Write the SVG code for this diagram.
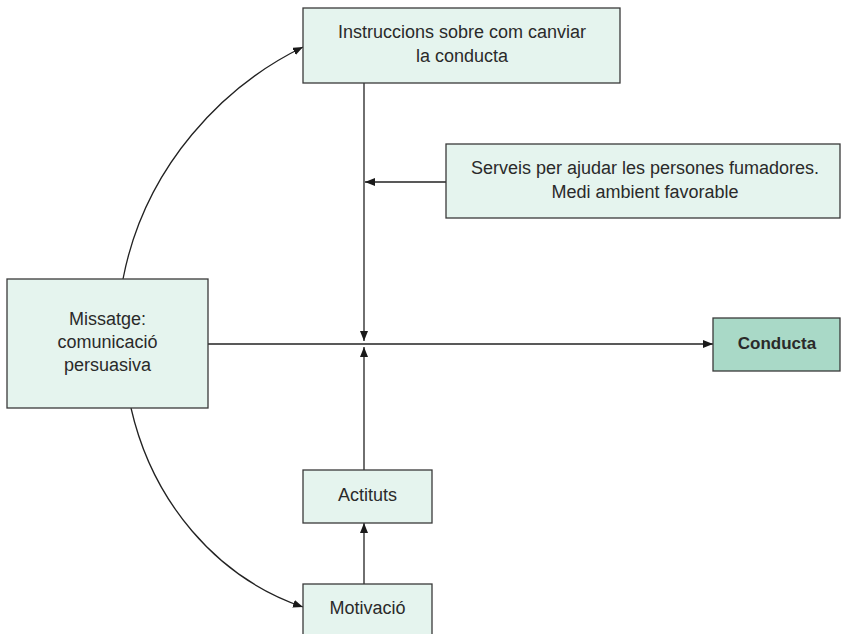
<svg xmlns="http://www.w3.org/2000/svg" width="841" height="634" viewBox="0 0 841 634">
  <style>
    .box { fill: #e5f4ee; stroke: #3a3a3a; stroke-width: 1.3; }
    .box-key { fill: #a9d9c7; stroke: #3a3a3a; stroke-width: 1.3; }
    .lbl { font-family: "Liberation Sans", Arial, sans-serif; font-size: 18px; fill: #2a2a2a; text-anchor: middle; }
    .bold { font-weight: bold; font-size: 17px; }
    .wire { fill: none; stroke: #222; stroke-width: 1.3; }
  </style>
  <defs>
    <marker id="arrow" viewBox="0 0 10 8" refX="10" refY="4" markerWidth="10" markerHeight="8" markerUnits="userSpaceOnUse" orient="auto">
      <path d="M0,0 L10,4 L0,8 Z" fill="#1a1a1a"/>
    </marker>
  </defs>

  <rect width="841" height="634" fill="#ffffff"/>

  <!-- connectors -->
  <g id="connectors">
    <path class="wire" d="M123,279 C145,165 225,85 303,47" marker-end="url(#arrow)"/>
    <path class="wire" d="M131,408 C152,500 215,577 303,607" marker-end="url(#arrow)"/>
    <path class="wire" d="M364,83 L364,341" marker-end="url(#arrow)"/>
    <path class="wire" d="M446,182 L365,182" marker-end="url(#arrow)"/>
    <path class="wire" d="M208,344 L713,344" marker-end="url(#arrow)"/>
    <path class="wire" d="M364,470 L364,347" marker-end="url(#arrow)"/>
    <path class="wire" d="M364,584 L364,523" marker-end="url(#arrow)"/>
  </g>

  <g id="node-instruccions">
    <rect class="box" x="303" y="8" width="317" height="75"/>
    <text class="lbl" x="462" y="38">Instruccions sobre com canviar</text>
    <text class="lbl" x="462" y="62">la conducta</text>
  </g>

  <g id="node-serveis">
    <rect class="box" x="446" y="144" width="394" height="74"/>
    <text class="lbl" x="645" y="174">Serveis per ajudar les persones fumadores.</text>
    <text class="lbl" x="645" y="198">Medi ambient favorable</text>
  </g>

  <g id="node-missatge">
    <rect class="box" x="7" y="279" width="201" height="129"/>
    <text class="lbl" x="107.5" y="325">Missatge:</text>
    <text class="lbl" x="107.5" y="348">comunicació</text>
    <text class="lbl" x="107.5" y="371">persuasiva</text>
  </g>

  <g id="node-conducta">
    <rect class="box-key" x="713" y="318" width="127" height="53"/>
    <text class="lbl bold" x="777" y="349">Conducta</text>
  </g>

  <g id="node-actituts">
    <rect class="box" x="303" y="470" width="129" height="53"/>
    <text class="lbl" x="367.5" y="501">Actituts</text>
  </g>

  <g id="node-motivacio">
    <rect class="box" x="303" y="584" width="129" height="60"/>
    <text class="lbl" x="367.5" y="614">Motivació</text>
  </g>
</svg>
